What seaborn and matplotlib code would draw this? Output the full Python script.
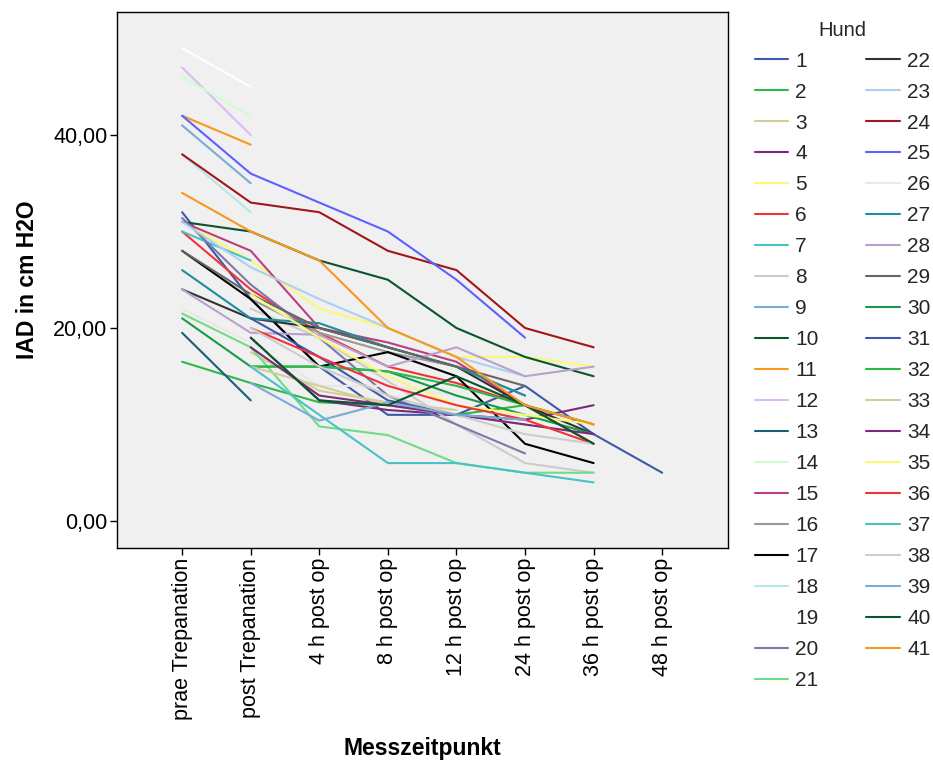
import numpy as np
import pandas as pd
import matplotlib
matplotlib.use("Agg")
import matplotlib.pyplot as plt
import seaborn as sns

time_labels = ["prae Trepanation", "post Trepanation", "4 h post op", "8 h post op",
               "12 h post op", "24 h post op", "36 h post op", "48 h post op"]
N = None
d1 = [32, 23, 16, 11, 11, 14, 9, 5]
d2 = [16.5, 14.3, 12.3, 12.0, 11.0, 12.0]
d3 = [N, 17.5, 13.5, 12.3, 11.5]
d4 = [N, 19, 12.5, 11.5, 11, 10.5, 12]
d5 = [31, 27, 22, 20, 17, 17, 16]
d6 = [30, 24, 19.5, 16, 14.3, 12, 8]
d7 = [30, 27]
d8 = [N, 22, 19, 14.5, 10, 6, 5]
d9 = [41, 35]
d10 = [31, 30, 27, 25, 20, 17, 15]
d11 = [42, 39]
d12 = [47, 40]
d13 = [19.5, 12.5]
d14 = [46, 42]
d15 = [31, 28, 20, 18.5, 16.5, 12, 10]
d16 = [N, 23, 19.5, 17.5, 16, 13]
d17 = [28, 23, 16, 17.5, 15, 8, 6]
d18 = [38, 32]
d19 = [49, 45]
d20 = [31.4, 24.5, 19, 13, 10, 7]
d21 = [21.5, 18, 9.8, 8.9, 6, 5, 5]
d22 = [24, 21, 20, 18, 16, 12, 9]
d23 = [31, 26.3, 23, 20, 17, 15]
d24 = [38, 33, 32, 28, 26, 20, 18]
d25 = [42, 36, 33, 30, 25, 19]
d26 = [22, 18.5, 14, 14, 13]
d27 = [26, 21, 20.5, 18, 16, 13]
d28 = [24, 19.5, 19.3, 16, 18, 15, 16]
d29 = [28, 23.5, 20, 18, 16, 14]
d30 = [21, 16, 16, 15.5, 13, 11, 9]
d31 = [N, 21, 17, 12.5, 11]
d32 = [N, 16, 16, 15.5, 14, 12, 10]
d33 = [N, 16, 14, 12, 11, 10]
d34 = [N, 18, 13, 12, 11, 10, 9]
d35 = [N, 23.5, 19, 15, 12, 11, 10]
d36 = [N, 20, 17, 14, 12, 10.5, 8]
d37 = [N, 16, 11, 6, 6, 5, 4]
d38 = [N, 20, 16, 13, 11, 9, 8]
d39 = [N, 14.3, 10.4, 12.3, 11, 10.5]
d40 = [N, 19, 12.5, 12, 15, 12, 8]
d41 = [34, 30, 27, 20, 17, 12, 10]

dogs = [d1, d2, d3, d4, d5, d6, d7, d8, d9, d10, d11, d12, d13, d14, d15, d16, d17, d18, d19, d20,
        d21, d22, d23, d24, d25, d26, d27, d28, d29, d30, d31, d32, d33, d34, d35, d36, d37, d38,
        d39, d40, d41]

base_colors = ["#3E58AC", "#2EB848", "#D3CE97", "#7C287D", "#FBF873", "#EF3338", "#48C2C5",
               "#CCCCCC", "#7AAAD5", "#0A562C", "#F8981D", "#DDBAF1", "#1A5F76", "#CCFFCC",
               "#BB3F7F", "#999999", "#000000", "#B6E7E8", "#FFFFFF", "#797AA7", "#70DC84",
               "#333333", "#ACD0EE", "#A21619", "#5D61FF", "#E8E8E8", "#1D8E9F", "#B9A0CF",
               "#666666", "#1A9A48"]

rows = []
for i, vals in enumerate(dogs):
    for t, v in enumerate(vals):
        if v is not None:
            rows.append({"Hund": str(i + 1), "t": t, "IAD": v})
df = pd.DataFrame(rows)
hue_order = [str(i + 1) for i in range(len(dogs))]
palette = {str(i + 1): base_colors[i % 30] for i in range(len(dogs))}

sns.set_style("white")
plt.rcParams["font.family"] = ["Liberation Sans", "DejaVu Sans"]

fig = plt.figure(figsize=(9.33, 7.64), dpi=100)
ax = fig.add_axes([117 / 933, 1 - 548 / 764, (728 - 117) / 933, (548 - 12) / 764])
ax.set_facecolor("#F0F0F0")

sns.lineplot(data=df, x="t", y="IAD", hue="Hund", hue_order=hue_order, palette=palette,
             linewidth=1.5, ax=ax, legend=True, estimator=None, sort=True)

ax.set_xlim(-0.95, 7.96)
ax.set_ylim(-2.8, 52.75)
ax.set_xticks(range(len(time_labels)))
ax.set_xticklabels(time_labels, rotation=90, fontsize=15.5, color="black")
ax.set_yticks([0, 20, 40])
ax.set_yticklabels(["0,00", "20,00", "40,00"], fontsize=15.5, color="black")
ax.tick_params(axis="both", direction="out", length=5, width=1, color="black",
               left=True, bottom=True, pad=2)
for s in ax.spines.values():
    s.set_color("black")
    s.set_linewidth(1)
ax.set_xlabel("Messzeitpunkt", fontsize=16.5, fontweight="bold", labelpad=12, color="black")
ax.set_ylabel("IAD in cm H2O", fontsize=16.5, fontweight="bold", labelpad=10, color="black")

handles, labels = ax.get_legend_handles_labels()
ax.get_legend().remove()
leg = fig.legend(handles, labels, title="Hund", ncol=2, loc="upper left",
                 bbox_to_anchor=(740 / 933, 1 - 6 / 764), frameon=False, fontsize=15,
                 title_fontsize=14.5, handlelength=1.6, labelspacing=0.575, columnspacing=2.3,
                 handletextpad=0.35, borderpad=0.2)
for h in leg.get_lines():
    h.set_linewidth(1.5)

fig.savefig("out.png", dpi=100)
